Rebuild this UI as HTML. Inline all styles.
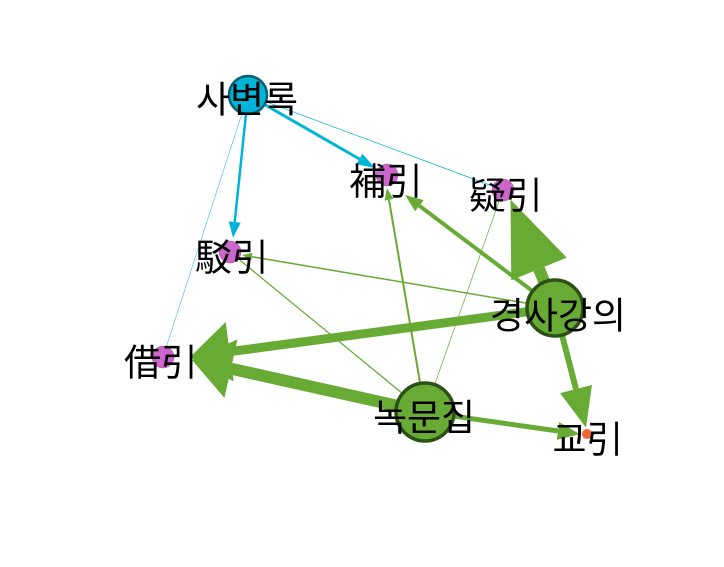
<!DOCTYPE html>
<html><head><meta charset="utf-8"><style>
html,body{margin:0;padding:0;background:#fff;}
svg text{font-family:"Liberation Sans","Noto Sans CJK KR","Noto Sans CJK JP",sans-serif;font-size:37px;fill:#000;text-anchor:middle;dominant-baseline:central;}
</style></head><body>
<svg width="724" height="562" viewBox="0 0 724 562" xmlns="http://www.w3.org/2000/svg">
<defs>
<marker id="gA" viewBox="0 0 10 10" refX="0" refY="5" markerUnits="userSpaceOnUse" markerWidth="75" markerHeight="60" orient="auto" preserveAspectRatio="none"><path d="M0,0L10,5L0,10z" fill="#67ab35"/></marker>
<marker id="gB" viewBox="0 0 10 10" refX="0" refY="5" markerUnits="userSpaceOnUse" markerWidth="40" markerHeight="60" orient="auto" preserveAspectRatio="none"><path d="M0,0L10,5L0,10z" fill="#67ab35"/></marker>
<marker id="gC" viewBox="0 0 10 10" refX="0" refY="5" markerUnits="userSpaceOnUse" markerWidth="40" markerHeight="33" orient="auto" preserveAspectRatio="none"><path d="M0,0L10,5L0,10z" fill="#67ab35"/></marker>
<marker id="gD" viewBox="0 0 10 10" refX="0" refY="5" markerUnits="userSpaceOnUse" markerWidth="22" markerHeight="18" orient="auto" preserveAspectRatio="none"><path d="M0,0L10,5L0,10z" fill="#67ab35"/></marker>
<marker id="gE" viewBox="0 0 10 10" refX="0" refY="5" markerUnits="userSpaceOnUse" markerWidth="18" markerHeight="14" orient="auto" preserveAspectRatio="none"><path d="M0,0L10,5L0,10z" fill="#67ab35"/></marker>
<marker id="gF" viewBox="0 0 10 10" refX="0" refY="5" markerUnits="userSpaceOnUse" markerWidth="12" markerHeight="9" orient="auto" preserveAspectRatio="none"><path d="M0,0L10,5L0,10z" fill="#67ab35"/></marker>
<marker id="gG" viewBox="0 0 10 10" refX="0" refY="5" markerUnits="userSpaceOnUse" markerWidth="10" markerHeight="8" orient="auto" preserveAspectRatio="none"><path d="M0,0L10,5L0,10z" fill="#67ab35"/></marker>
<marker id="cA" viewBox="0 0 10 10" refX="0" refY="5" markerUnits="userSpaceOnUse" markerWidth="18" markerHeight="12" orient="auto" preserveAspectRatio="none"><path d="M0,0L10,5L0,10z" fill="#00b4d8"/></marker>
<marker id="cB" viewBox="0 0 10 10" refX="0" refY="5" markerUnits="userSpaceOnUse" markerWidth="16" markerHeight="12" orient="auto" preserveAspectRatio="none"><path d="M0,0L10,5L0,10z" fill="#00b4d8"/></marker>
</defs>
<g stroke-linecap="butt" fill="none">
<line x1="248" y1="95" x2="503" y2="190" stroke="#00b4d8" stroke-width="0.7"/>
<line x1="248" y1="95" x2="163" y2="357" stroke="#00b4d8" stroke-width="0.5"/>
<line x1="248" y1="95" x2="359.4" y2="159" stroke="#00b4d8" stroke-width="3" marker-end="url(#cA)"/>
<line x1="248" y1="95" x2="234.7" y2="222" stroke="#00b4d8" stroke-width="2.5" marker-end="url(#cB)"/>
<line x1="425" y1="412" x2="503" y2="190" stroke="#67ab35" stroke-width="0.7"/>
<line x1="425" y1="412" x2="230" y2="252" stroke="#67ab35" stroke-width="1.3"/>
<line x1="425" y1="412" x2="389" y2="199.8" stroke="#67ab35" stroke-width="2" marker-end="url(#gF)"/>
<line x1="555" y1="308" x2="251.9" y2="256.7" stroke="#67ab35" stroke-width="1.5" marker-end="url(#gG)"/>
<line x1="555" y1="308" x2="419.4" y2="205.8" stroke="#67ab35" stroke-width="4" marker-end="url(#gE)"/>
<line x1="555" y1="308" x2="539" y2="269" stroke="#67ab35" stroke-width="12" marker-end="url(#gA)"/>
<line x1="555" y1="308" x2="229.7" y2="351.7" stroke="#67ab35" stroke-width="9" marker-end="url(#gB)"/>
<line x1="425" y1="412" x2="231" y2="368.7" stroke="#67ab35" stroke-width="12" marker-end="url(#gB)"/>
<line x1="555" y1="308" x2="576" y2="389" stroke="#67ab35" stroke-width="6" marker-end="url(#gC)"/>
<line x1="425" y1="412" x2="558" y2="431" stroke="#67ab35" stroke-width="5" marker-end="url(#gD)"/>
</g>
<circle cx="248" cy="95" r="19" fill="#00b4d8" stroke="#0a6070" stroke-width="2.5"/>
<circle cx="387" cy="175" r="11" fill="#cc66cc" stroke="#9a4a9a" stroke-width="0.5"/>
<circle cx="503" cy="190" r="11" fill="#cc66cc" stroke="#9a4a9a" stroke-width="0.5"/>
<circle cx="230" cy="252" r="11" fill="#cc66cc" stroke="#9a4a9a" stroke-width="0.5"/>
<circle cx="163" cy="357" r="11" fill="#cc66cc" stroke="#9a4a9a" stroke-width="0.5"/>
<circle cx="555" cy="308" r="28" fill="#67ab35" stroke="#2d5016" stroke-width="3.5"/>
<circle cx="425" cy="412" r="29" fill="#67ab35" stroke="#2d5016" stroke-width="3.5"/>
<circle cx="587" cy="434" r="5" fill="#ee6633"/>
<text x="247" y="100">사변록</text>
<text x="386" y="182">補引</text>
<text x="506" y="196">疑引</text>
<text x="232" y="258">駁引</text>
<text x="558" y="316">경사강의</text>
<text x="161" y="363">借引</text>
<text x="424" y="418">녹문집</text>
<text x="588" y="440">교引</text>
</svg>
</body></html>
